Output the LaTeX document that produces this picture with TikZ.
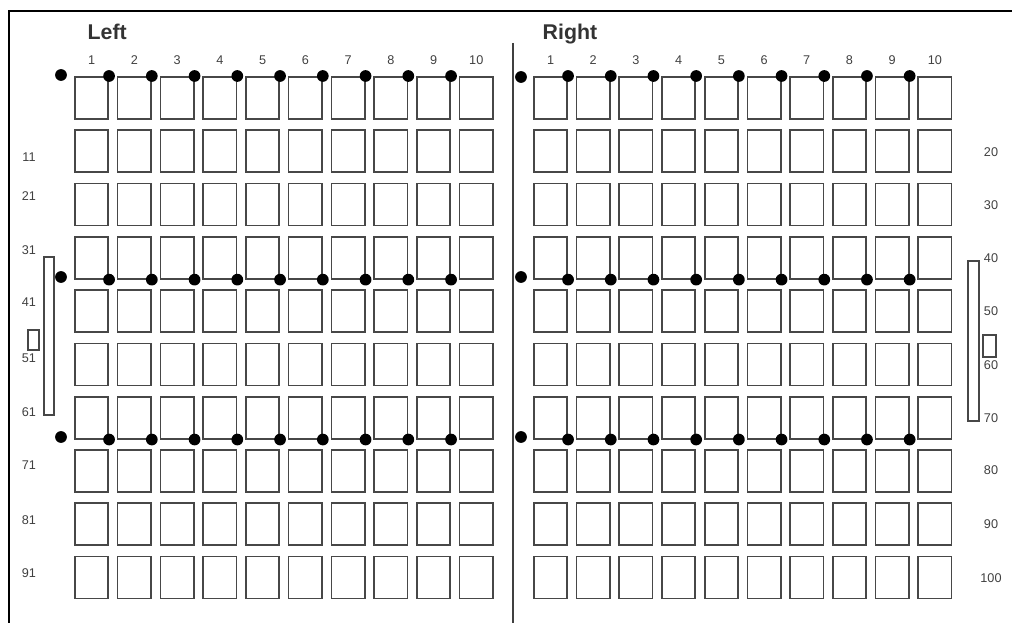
\documentclass[tikz,border=0pt]{standalone}
\usepackage{fontspec}
\setmainfont{Liberation Sans}
\begin{document}
\begin{tikzpicture}[x=0.75pt,y=-0.75pt,
  seat/.style={draw=black!72,line width=1.3pt,minimum width=25pt,minimum height=31.5pt,inner sep=0pt,anchor=north west},
  pin/.style={fill=black,draw=none},
  lbl/.style={font=\fontsize{9.5}{10}\selectfont,text=black!75},
  head/.style={font=\fontsize{16}{18}\selectfont\bfseries,text=black!80,anchor=base west},
  bar/.style={draw=black!72,line width=1pt},
  frame/.style={line width=2.2pt,black}]
\useasboundingbox (0,0) rectangle (1012,623);
% frame
\draw[frame] (9,623) -- (9,11) -- (1012,11);
% divider
\coordinate (dtop) at (513,43);
\coordinate (dbot) at (513,623);
\draw[black!75,line width=1.1pt] (dtop) -- (dbot);
% headings
\node[head] (hleft) at (83,40) {Left};
\node[head] (hright) at (538,40) {Right};
% boxes
\foreach \r in {0,...,9}{
  \foreach \c in {1,...,10}{
    \node[seat] (L-\r-\c) at ({74+(\c-1)*42.75},{76+\r*53.3}) {};
    \node[seat] (R-\r-\c) at ({533+(\c-1)*42.7},{76+\r*53.3}) {};
  }
}
% column numbers
\foreach \c in {1,...,10}{
  \node[lbl] (cl\c) at ([yshift=12pt]L-0-\c.north) {\c};
  \node[lbl] (cr\c) at ([yshift=12pt]R-0-\c.north) {\c};
}
% dots
\def\dr{4.4pt}
\foreach \c in {1,...,9}{
  \fill[pin] (L-0-\c.north east) circle (\dr);
  \fill[pin] (R-0-\c.north east) circle (\dr);
  \fill[pin] (L-3-\c.south east) circle (\dr);
  \fill[pin] (R-3-\c.south east) circle (\dr);
  \fill[pin] (L-6-\c.south east) circle (\dr);
  \fill[pin] (R-6-\c.south east) circle (\dr);
}
\fill[pin] (61,75) circle (\dr);
\fill[pin] (521,77) circle (\dr);
\fill[pin] (61,277) circle (\dr);
\fill[pin] (521,277) circle (\dr);
\fill[pin] (61,437) circle (\dr);
\fill[pin] (521,437) circle (\dr);
% row labels left
\foreach \t/\y in {11/157,21/196,31/250,41/302,51/358,61/412,71/465,81/520,91/573}{
  \node[lbl] (rl\t) at (29,\y) {\t};
}
% row labels right
\foreach \t/\y in {20/152,30/205,40/258,50/311,60/365,70/418,80/470,90/524,100/578}{
  \node[lbl] (rr\t) at (991,\y) {\t};
}
% side bars
\draw[bar] (44,257) rectangle (54,415);
\draw[bar] (28,330) rectangle (39,350);
\draw[bar] (968,261) rectangle (979,421);
\draw[bar] (983,335) rectangle (996,357);
\end{tikzpicture}
\end{document}
